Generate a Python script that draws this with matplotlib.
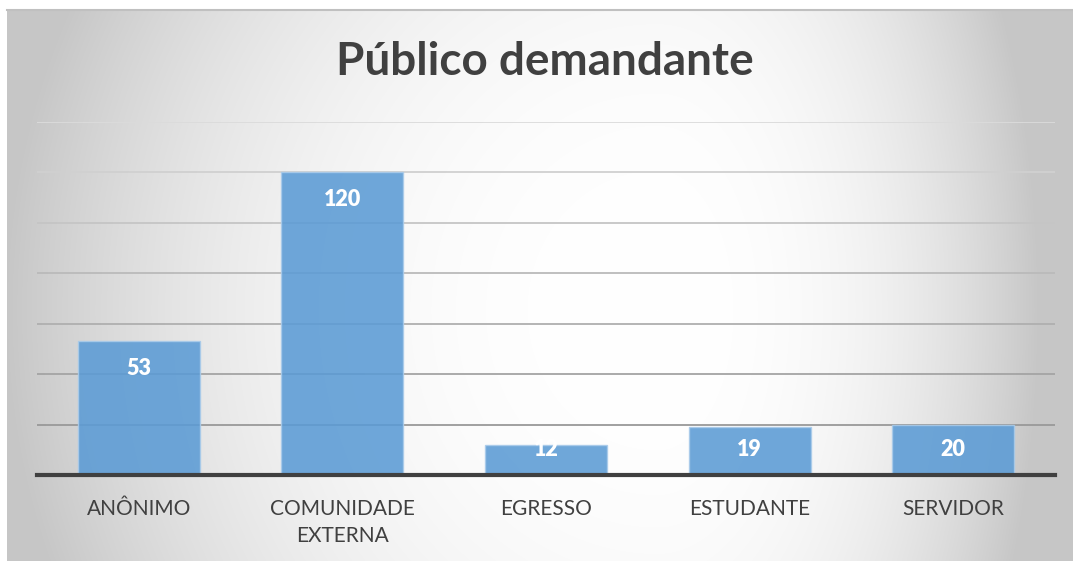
import numpy as np
import matplotlib.pyplot as plt

# data
categories = ['ANÔNIMO', 'COMUNIDADE\nEXTERNA', 'EGRESSO', 'ESTUDANTE', 'SERVIDOR']
values = [53, 120, 12, 19, 20]
title = 'Público demandante'

plt.rcParams['font.family'] = ['Lato', 'DejaVu Sans']

W, H = 1073, 561
fig = plt.figure(figsize=(W / 100, H / 100), dpi=100)
fig.patch.set_facecolor('white')

# background panel with a soft radial gradient (white centre, grey edges)
bg = fig.add_axes([7 / W, 0, 1 - 7 / W, 551 / H])
bg.set_axis_off()
yy, xx = np.mgrid[0:551, 0:1066]
cx, cy = 650, 300
sx = np.where(xx < cx, cx, 380)
d = np.sqrt(((xx - cx) / sx) ** 2 + ((yy - cy) / 700) ** 2)
d = np.clip(d, 0, 1)
shade = 1 - 0.22 * d ** 2.5
bg.imshow(np.dstack([shade] * 3), aspect='auto', extent=[0, 1, 0, 1], origin='upper')
bg.plot([0, 1], [1, 1], color='#c0c0c0', lw=1.5, transform=bg.transAxes, clip_on=False)

ax = fig.add_axes([37 / W, 1 - 475 / H, 1018 / W, (475 - 122) / H])
ax.patch.set_alpha(0)
x = np.arange(len(categories))

# gridlines get lighter towards the top
grid_levels = np.arange(20, 141, 20)
grid_greys = np.linspace(0.60, 0.86, len(grid_levels))
for lvl, g in zip(grid_levels, grid_greys):
    ax.axhline(lvl, color=(g, g, g), linewidth=1.3, zorder=1)

bars = ax.bar(x, values, width=0.6, color='#5B9BD5', alpha=0.88,
              edgecolor='#A9CBEA', linewidth=1, zorder=3)

ax.set_xlim(-0.5, len(categories) - 0.5)
ax.set_ylim(0, 140)
ax.set_yticks([])
ax.tick_params(axis='x', bottom=False, pad=14, labelsize=15, labelcolor='#404040')
ax.set_xticks(x)
ax.set_xticklabels(categories, linespacing=1.4, va='top')
for s in ['top', 'right', 'left']:
    ax.spines[s].set_visible(False)
ax.spines['bottom'].set_color('#404040')
ax.spines['bottom'].set_linewidth(3)
ax.spines['bottom'].set_zorder(4)

# labels sit just inside the bar top, but never lower than a floor level
for b, v in zip(bars, values):
    ly = max(v - 10.7, 10.3)
    ax.text(b.get_x() + b.get_width() / 2, ly, str(v), ha='center', va='center',
            color='white', fontsize=15.5, fontweight='heavy', zorder=5)

fig.text(545 / W, 1 - 62 / H, title, ha='center', va='center',
         fontsize=33, fontweight='bold', color='#404040')

fig.savefig('out.png', dpi=100)
